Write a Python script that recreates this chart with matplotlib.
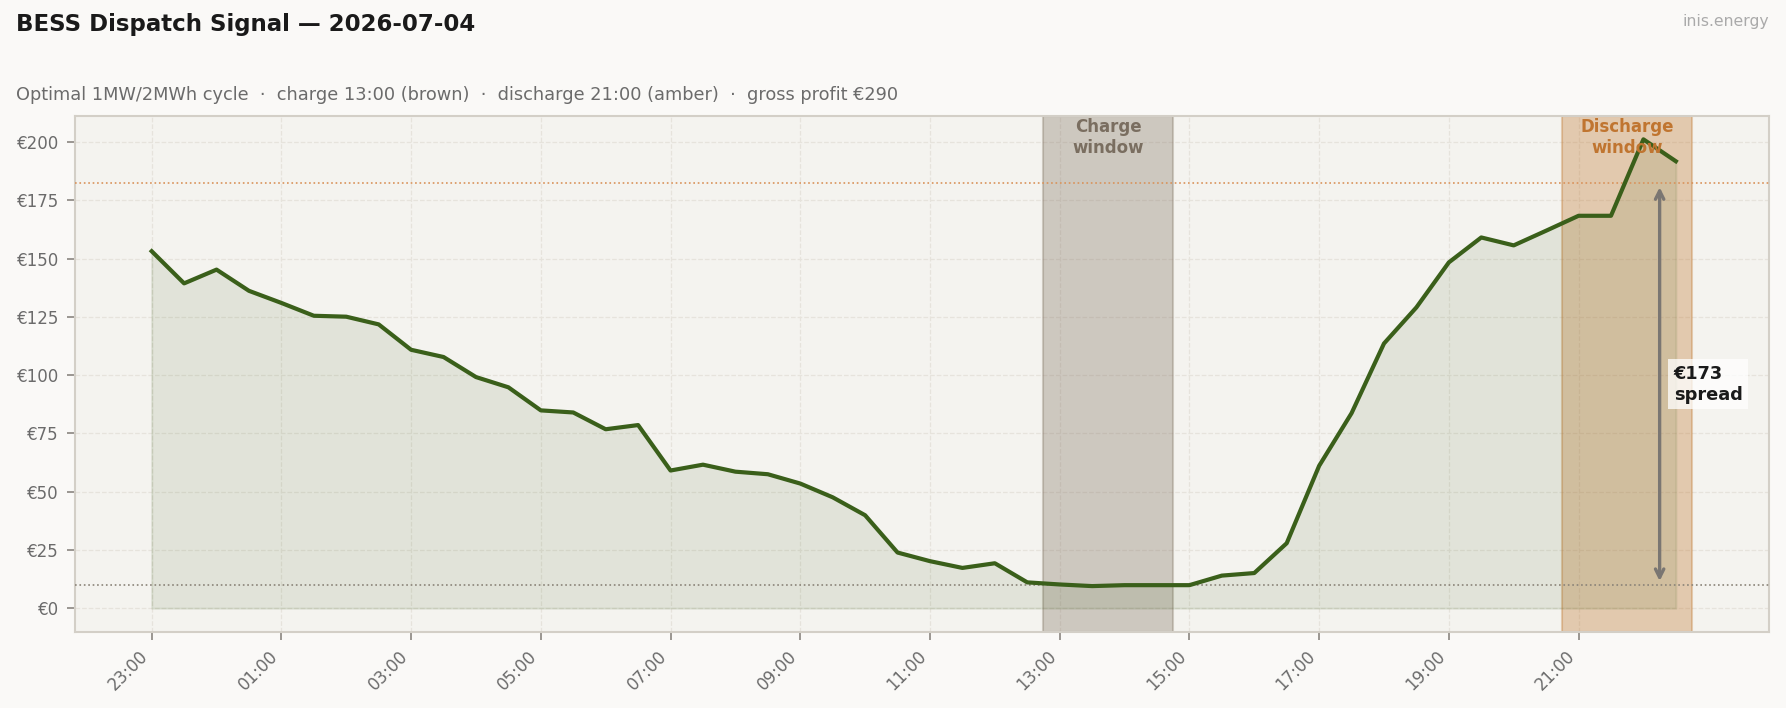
import numpy as np
import pandas as pd
import matplotlib
matplotlib.use("Agg")
import matplotlib.pyplot as plt
import matplotlib.dates as mdates

# half-hourly day-ahead prices, EUR/MWh
start = "2026-07-03 23:00"
prices = [153.2, 139.4, 145.3, 136.2, 131.0, 125.5, 125.1, 121.8,
          110.9, 107.8, 99.2, 94.8, 84.9, 84.0, 76.8, 78.6,
          59.1, 61.6, 58.6, 57.5, 53.5, 47.6, 39.9, 23.9,
          20.2, 17.3, 19.3, 11.1, 10.2, 9.5, 9.9, 9.9,
          9.9, 14.0, 15.1, 27.9, 61.1, 83.7, 113.6, 129.1,
          148.4, 159.1, 155.7, 162.0, 168.4, 168.4, 201.2, 191.8]
charge_start = "2026-07-04 13:00"
discharge_start = "2026-07-04 21:00"
window_hours = 2
subtitle = ("Optimal 1MW/2MWh cycle  \u00b7  charge 13:00 (brown)  \u00b7  "
            "discharge 21:00 (amber)  \u00b7  gross profit \u20ac290")

times = pd.date_range(start, periods=len(prices), freq="30min")
s = pd.Series(prices, index=times)

half = pd.Timedelta(minutes=15)
c0 = pd.Timestamp(charge_start)
d0 = pd.Timestamp(discharge_start)
c1 = c0 + pd.Timedelta(hours=window_hours) - pd.Timedelta(minutes=30)
d1 = d0 + pd.Timedelta(hours=window_hours) - pd.Timedelta(minutes=30)
charge_avg = s[c0:c1].mean()
discharge_avg = s[d0:d1].mean()
spread = discharge_avg - charge_avg

# colours
bg = "#faf9f7"
panel = "#f4f3ef"
green = "#3a5f1a"
brown = "#857868"
amber = "#c17b35"

fig = plt.figure(figsize=(11.907, 4.72), dpi=150, facecolor=bg)
ax = fig.add_axes([0.0418, 0.1078, 0.9487, 0.7285])
ax.set_facecolor(panel)

ax.axvspan(c0 - half, c1 + half, color=brown, alpha=0.35, lw=1.0, zorder=1)
ax.axvspan(d0 - half, d1 + half, color=amber, alpha=0.35, lw=1.0, zorder=1)

ax.fill_between(times, 0, s.values, color=green, alpha=0.1, zorder=2)
ax.plot(times, s.values, color=green, lw=2.0, zorder=4)

ax.axhline(charge_avg, color="#8a8378", lw=0.8, ls=":", zorder=3)
ax.axhline(discharge_avg, color="#d9925a", lw=0.8, ls=":", zorder=3)

# window labels
ax.text(c0 - half + (c1 - c0 + 2 * half) / 2, 0.995, "Charge\nwindow",
        transform=ax.get_xaxis_transform(), ha="center", va="top",
        fontsize=8, fontweight="bold", color="#7a6e60", zorder=5)
ax.text(d0 - half + (d1 - d0 + 2 * half) / 2, 0.995, "Discharge\nwindow",
        transform=ax.get_xaxis_transform(), ha="center", va="top",
        fontsize=8, fontweight="bold", color="#c07530", zorder=5)

# spread arrow
ax_x = mdates.date2num(d1 - half)
ax.annotate("", xy=(ax_x, discharge_avg), xytext=(ax_x, charge_avg),
            arrowprops=dict(arrowstyle="<->", color="#7a7672", lw=1.6),
            zorder=5)
ax.text(ax_x + 0.009, (discharge_avg + charge_avg) / 2,
        f"\u20ac{spread:.0f}\nspread", ha="left", va="center",
        fontsize=8.5, fontweight="bold", color="#1a1a1a", zorder=6,
        bbox=dict(boxstyle="square,pad=0.3", fc="white", ec="none", alpha=0.75))

# axes styling
ax.set_xticks(times[::4])
ax.xaxis.set_major_formatter(mdates.DateFormatter("%H:%M"))
ax.yaxis.set_major_formatter(matplotlib.ticker.FuncFormatter(lambda v, p: f"\u20ac{v:.0f}"))
plt.setp(ax.get_xticklabels(), rotation=45, ha="right")
ax.tick_params(colors="#8a8580", labelcolor="#6b6b6b", labelsize=8, length=4, width=0.8)
ax.grid(True, color="#e6e3dc", lw=0.6, ls="--", zorder=0)
ax.set_axisbelow(True)
for sp in ax.spines.values():
    sp.set_color("#d3cfc7")
    sp.set_linewidth(1.0)

fig.text(0.009, 0.965, "BESS Dispatch Signal \u2014 2026-07-04", ha="left", va="center",
         fontsize=11, fontweight="bold", color="#1a1a1a")
fig.text(0.009, 0.8665, subtitle, ha="left", va="center", fontsize=8.5, color="#6b6b6b")
fig.text(0.9905, 0.97, "inis.energy", ha="right", va="center", fontsize=7.5, color="#aaaaaa")

fig.savefig("out.png", dpi=150, facecolor=bg)
